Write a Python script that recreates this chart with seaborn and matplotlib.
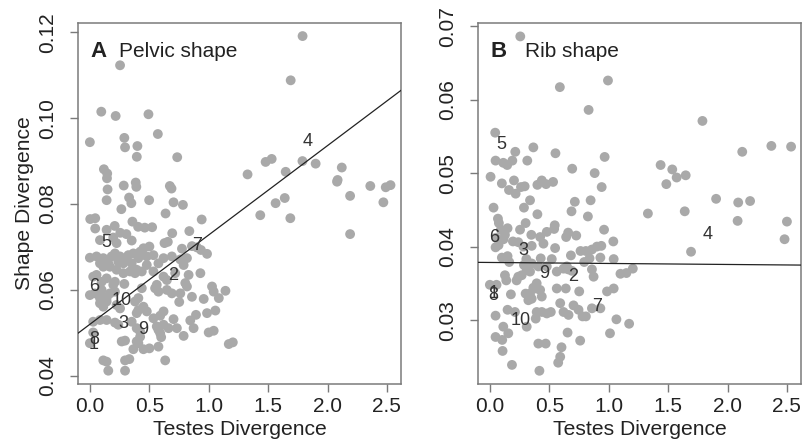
import matplotlib
matplotlib.use("Agg")
import matplotlib.pyplot as plt
import seaborn as sns
import pandas as pd

# Panel A: pelvic shape divergence vs testes divergence
pelvic_testes = [
    0.0, 0.096, 0.217, 0.493, 0.572, 0.29, 0.296, 0.40, 0.395, 0.735, 0.118, 0.146, 0.144, 0.149, 0.141,
    0.285, 0.386, 0.391, 0.673, 0.687, 0.33, 0.349, 0.499, 0.704, 0.783, 0.265, 0.637, 0.941, 0.003, 0.045,
    0.045, 0.141, 0.209, 0.256, 0.307, 0.358, 0.406, 0.462, 0.524, 0.693, 0.837, 0.254,
    1.79, 1.69, 1.327, 1.479, 1.53, 1.648, 1.789, 1.90, 2.085, 2.12, 2.19, 2.36, 2.49, 2.53, 2.47, 2.19,
    1.563, 1.64, 1.687, 1.434, 2.08,
    0.085, 0.197, 0.352, 0.225, 0.451, 0.501, 0.628, 0.656, 0.775, 0.859, 0.935, 0.986, 0.901,
    0.0, 0.056, 0.113, 0.155, 0.211, 0.254, 0.31, 0.366, 0.423, 0.479, 0.535, 0.577, 0.62, 0.690, 0.761,
    0.817, 0.789, 0.113, 0.169, 0.225, 0.282, 0.352, 0.394, 0.479, 0.085, 0.183, 0.239, 0.324, 0.408,
    0.056, 0.099, 0.211, 0.282, 0.338, 0.380, 0.437, 0.535, 0.62, 0.648, 0.718, 0.803, 0.831, 0.93,
    0.197, 0.290, 0.563, 0.648, 0.141, 0.028,
    0.0, 0.042, 0.099, 0.113, 0.169, 0.211, 0.408, 0.437, 0.549, 0.577, 0.690, 0.761, 0.817, 0.859,
    0.958, 1.028, 1.042, 1.085, 1.141, 0.085, 0.141, 0.099,
    0.085, 0.113, 0.141, 0.225, 0.254, 0.380, 0.408, 0.451, 0.479, 0.535, 0.620, 0.592, 0.752, 0.893,
    0.986, 1.056, 0.394,
    0.028, 0.085, 0.141, 0.211, 0.352, 0.394, 0.423, 0.563, 0.577, 0.620, 0.662, 0.704, 0.732, 0.845,
    0.873, 0.239,
    0.028, 0.0, 0.296, 0.268, 0.394, 0.423, 0.592, 0.600, 0.789, 1.0, 1.042, 0.577, 0.366, 0.451, 0.501,
    1.169, 1.203, 0.408,
    0.113, 0.141, 0.296, 0.332, 0.634, 0.155, 0.296,
]
pelvic_shape = [
    0.0944, 0.1015, 0.1005, 0.1009, 0.0963, 0.0954, 0.0932, 0.0935, 0.0910, 0.0909, 0.0881, 0.0871, 0.0860, 0.0834, 0.0809,
    0.0843, 0.0850, 0.0840, 0.0842, 0.0836, 0.0815, 0.0802, 0.0809, 0.0804, 0.0798, 0.0788, 0.0778, 0.0764, 0.0765, 0.0767,
    0.0743, 0.0740, 0.0749, 0.0733, 0.0730, 0.0759, 0.0747, 0.0745, 0.0746, 0.0732, 0.0737, 0.1123,
    0.1191, 0.1088, 0.0869, 0.0898, 0.0905, 0.0875, 0.0900, 0.0894, 0.0856, 0.0885, 0.0819, 0.0842, 0.0839, 0.0844, 0.0804, 0.0730,
    0.0802, 0.0814, 0.0767, 0.0774, 0.0852,
    0.0716, 0.0722, 0.0715, 0.0709, 0.0697, 0.0701, 0.0709, 0.0712, 0.0696, 0.0702, 0.0693, 0.0684, 0.0699,
    0.0675, 0.0678, 0.0674, 0.0662, 0.0685, 0.0678, 0.0670, 0.0685, 0.0689, 0.0678, 0.0681, 0.0662, 0.0674, 0.0678, 0.0671,
    0.0674, 0.0658, 0.0654, 0.0654, 0.0647, 0.0662, 0.0662, 0.0647, 0.0658, 0.0662, 0.0678, 0.0666, 0.0681, 0.0674,
    0.0635, 0.0619, 0.0619, 0.0639, 0.0643, 0.0639, 0.0643, 0.0643, 0.0631, 0.0623, 0.0639, 0.0616, 0.0635, 0.0639,
    0.0612, 0.0614, 0.0612, 0.0600, 0.0627, 0.0631,
    0.0588, 0.0592, 0.0600, 0.0584, 0.0592, 0.0596, 0.0581, 0.0604, 0.0604, 0.0596, 0.0592, 0.0592, 0.0608, 0.0584,
    0.0579, 0.0608, 0.0596, 0.0581, 0.0598, 0.0581, 0.0581, 0.0573,
    0.0569, 0.0561, 0.0573, 0.0565, 0.0557, 0.0573, 0.0553, 0.0561, 0.0550, 0.0534, 0.0550, 0.0540, 0.0572, 0.0542,
    0.0546, 0.0552, 0.0546,
    0.0526, 0.0530, 0.0530, 0.0524, 0.0526, 0.0511, 0.0503, 0.0515, 0.0507, 0.0519, 0.0511, 0.0532, 0.0511, 0.0529,
    0.0511, 0.0519,
    0.0501, 0.0476, 0.0482, 0.0480, 0.0480, 0.0491, 0.0499, 0.0490, 0.0493, 0.0501, 0.0505, 0.0468, 0.0462, 0.0462, 0.0464,
    0.0474, 0.0478, 0.0476,
    0.0436, 0.0433, 0.0436, 0.0439, 0.0436, 0.0412, 0.0412,
]

# Panel B: rib shape divergence vs testes divergence
rib_testes = [
    0.256, 0.994, 0.589, 0.831, 1.789, 0.045, 0.366, 0.214, 0.552, 0.048, 0.113, 0.146, 0.189, 0.315, 0.966,
    0.693, 0.006, 0.882, 0.101, 0.203, 0.262, 0.293, 0.161, 0.217, 0.40, 0.437, 0.473, 0.532, 0.941, 0.338,
    0.715, 0.848, 0.287, 0.031, 0.687, 0.40, 0.825, 0.068, 0.076, 0.093, 0.149, 0.301, 0.254, 0.546, 0.541,
    0.479, 0.659, 0.642, 0.727, 0.961, 0.349, 0.423, 0.451, 0.051, 0.115, 0.194, 0.239, 0.127, 1.039, 0.048,
    0.073, 0.282, 0.352, 0.549, 0.763, 0.808, 0.859, 0.901, 0.938,
    0.101, 0.149, 0.163, 0.307, 0.428, 0.521, 0.682, 0.794, 0.839, 0.930, 1.042,
    0.287, 0.324, 0.352, 0.408, 0.479, 0.648, 0.659,
    0.31, 0.338, 0.239, 0.225, 0.268, 0.127, 0.138, 0.056, 0.0,
    0.563, 0.62, 0.69, 0.859, 0.873, 1.099, 1.149, 1.203,
    0.394, 0.366, 0.423, 0.437, 0.338, 0.352, 0.389,
    0.563, 0.639, 0.752, 0.986, 1.042,
    0.177, 0.301, 0.324, 0.394, 0.437, 0.479, 0.513, 0.386,
    0.592, 0.620, 0.662, 0.704, 0.746, 0.780, 0.808, 0.859, 0.930, 1.065, 1.172, 1.011,
    0.048, 0.149, 0.211, 0.31, 0.113, 0.048, 0.104, 0.155, 0.107, 0.408, 0.470, 0.603, 0.592, 0.575,
    0.654, 0.76, 0.186, 0.417,
    1.33, 1.437, 1.535, 1.485, 1.572, 1.648, 1.64, 1.693, 1.904, 2.124, 2.09, 2.19, 2.085, 2.369, 2.535,
    2.50, 2.48,
]
rib_shape = [
    0.0686, 0.0626, 0.0617, 0.0586, 0.0571, 0.0555, 0.0535, 0.0529, 0.0527, 0.0517, 0.0514, 0.0511, 0.0517, 0.0517, 0.0522,
    0.0506, 0.0495, 0.0500, 0.0486, 0.0490, 0.0481, 0.0482, 0.0477, 0.0472, 0.0484, 0.0490, 0.0485, 0.0488, 0.0481, 0.0463,
    0.0461, 0.0463, 0.0453, 0.0453, 0.0448, 0.0444, 0.0441, 0.0438, 0.0432, 0.0423, 0.0425, 0.0432, 0.0423, 0.0429, 0.0424,
    0.0420, 0.0419, 0.0413, 0.0415, 0.0423, 0.0416, 0.0413, 0.0404, 0.0412, 0.0410, 0.0407, 0.0406, 0.0416, 0.0407, 0.0399,
    0.0402, 0.0400, 0.0401, 0.0398, 0.0394, 0.0394, 0.0396, 0.0400, 0.0401,
    0.0385, 0.0387, 0.0379, 0.0383, 0.0384, 0.0383, 0.0388, 0.0379, 0.0384, 0.0385, 0.0383,
    0.0375, 0.0373, 0.0377, 0.0373, 0.0373, 0.0373, 0.0369,
    0.0368, 0.0366, 0.0359, 0.0354, 0.0361, 0.0361, 0.0354, 0.0348, 0.0348,
    0.0366, 0.0370, 0.0367, 0.0369, 0.0359, 0.0363, 0.0364, 0.0370,
    0.0350, 0.0344, 0.0341, 0.0332, 0.0336, 0.0329, 0.0343,
    0.0343, 0.0343, 0.0339, 0.0339, 0.0343,
    0.0335, 0.0336, 0.0327, 0.0311, 0.0311, 0.0309, 0.0311, 0.0302,
    0.0323, 0.0311, 0.0307, 0.0320, 0.0314, 0.0305, 0.0305, 0.0316, 0.0316, 0.0301, 0.0295, 0.0282,
    0.0306, 0.0314, 0.0311, 0.0291, 0.0291, 0.0277, 0.0273, 0.0282, 0.0258, 0.0268, 0.0268, 0.0263, 0.0250, 0.0242,
    0.0283, 0.0272, 0.0239, 0.0231,
    0.0445, 0.0511, 0.0505, 0.0485, 0.0494, 0.0497, 0.0448, 0.0393, 0.0465, 0.0529, 0.0460, 0.0462, 0.0435, 0.0537, 0.0536,
    0.0434, 0.0410,
]

# numbered labels (population pairs); 8 and 1 sit on top of each other as in the original
pelvic_labels = ["5", "6", "10", "3", "9", "8", "1", "2", "7", "4"]
pelvic_label_x = [0.135, 0.039, 0.268, 0.282, 0.451, 0.034, 0.034, 0.704, 0.901, 1.83]
pelvic_label_y = [0.0710, 0.0609, 0.0575, 0.0522, 0.0507, 0.0484, 0.0472, 0.0634, 0.0703, 0.0946]

rib_labels = ["5", "6", "3", "9", "2", "1", "8", "10", "7", "4"]
rib_label_x = [0.093, 0.037, 0.282, 0.456, 0.704, 0.028, 0.028, 0.259, 0.901, 1.83]
rib_label_y = [0.0539, 0.0412, 0.0395, 0.0363, 0.0359, 0.0336, 0.0333, 0.0300, 0.0319, 0.0416]

# regression lines (intercept, slope)
pelvic_fit = (0.0520, 0.0208)
rib_fit = (0.03784, -0.000136)

sns.set_style("ticks")
plt.rcParams["font.family"] = ["Liberation Sans", "DejaVu Sans"]

fig = plt.figure(figsize=(8.04, 4.46), dpi=100)
ax_a = fig.add_axes([0.097, 0.139, 0.402, 0.809])
ax_b = fig.add_axes([0.5945, 0.139, 0.402, 0.809])

pt_color = "#a9a9a9"
frame_color = "#7a7a7a"
text_color = "#222222"

panels = [
    (ax_a, pelvic_testes, pelvic_shape, pelvic_labels, pelvic_label_x, pelvic_label_y, pelvic_fit,
     "A", "Pelvic shape", 0.128, (0.0381, 0.1221), [0.04, 0.06, 0.08, 0.10, 0.12]),
    (ax_b, rib_testes, rib_shape, rib_labels, rib_label_x, rib_label_y, rib_fit,
     "B", "Rib shape", 0.146, (0.0213, 0.0704), [0.03, 0.04, 0.05, 0.06, 0.07]),
]

for ax, tx, sy, labs, lx, ly, fit, letter, title, title_x, ylim, yticks in panels:
    df = pd.DataFrame({"testes": tx, "shape": sy})
    sns.scatterplot(data=df, x="testes", y="shape", ax=ax, color=pt_color,
                    s=50, edgecolor="none", linewidth=0, zorder=2)
    ax.axline((0, fit[0]), slope=fit[1], color=text_color, lw=0.9, zorder=3)
    for t, x, y in zip(labs, lx, ly):
        ax.text(x, y, t, ha="center", va="center", fontsize=13, color="#333333", zorder=4)

    ax.set_xlim(-0.1, 2.62)
    ax.set_ylim(*ylim)
    ax.set_xticks([0.0, 0.5, 1.0, 1.5, 2.0, 2.5])
    ax.set_xticklabels(["0.0", "0.5", "1.0", "1.5", "2.0", "2.5"])
    ax.set_yticks(yticks)
    ax.set_yticklabels([f"{v:.2f}" for v in yticks], rotation=90, va="center")
    ax.tick_params(axis="both", labelsize=15, color=frame_color, length=6, width=1,
                   labelcolor=text_color)
    ax.tick_params(axis="x", pad=3)
    ax.tick_params(axis="y", pad=9)
    for sp in ax.spines.values():
        sp.set_visible(True)
        sp.set_color(frame_color)
        sp.set_linewidth(1.1)
    ax.set_xlabel("Testes Divergence", fontsize=15.2, color=text_color, labelpad=3)
    ax.set_ylabel("")

    ax.text(0.038, 0.905, letter, transform=ax.transAxes, fontsize=16, fontweight="bold",
            color=text_color, va="baseline")
    ax.text(title_x, 0.905, title, transform=ax.transAxes,
            fontsize=15, color=text_color, va="baseline")

ax_a.set_ylabel("Shape Divergence", fontsize=15.2, color=text_color, labelpad=3)

fig.savefig("out.png", dpi=100)
